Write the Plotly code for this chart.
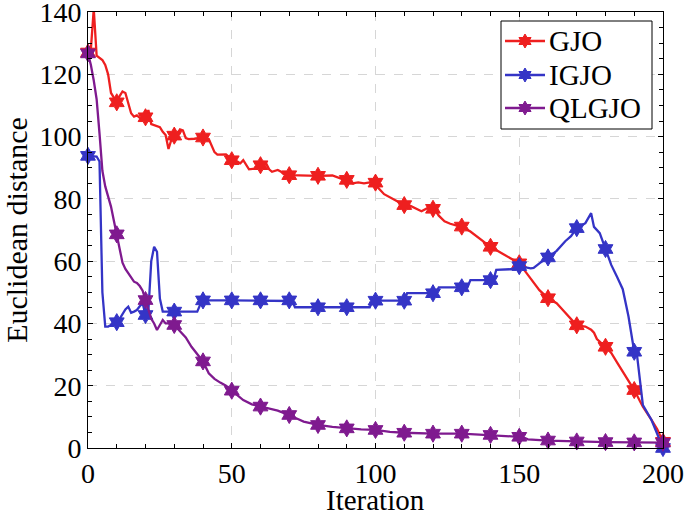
import math
import plotly.graph_objects as go

# ---------------- data ----------------
gjo_x = [0, 1, 2, 3, 5, 6, 7, 8, 9, 10, 11, 12, 13, 14, 15, 16, 17, 18, 19, 20,
         21, 22, 24, 25, 26, 27, 28, 29, 30, 31, 32, 33, 34, 35, 37, 40, 42, 43, 44, 45,
         48, 49, 50, 52, 53, 54, 55, 56, 58, 59, 60, 62, 63, 64, 66, 67, 68, 70, 80, 85,
         88, 90, 92, 94, 96, 98, 100, 101, 103, 105, 107, 110, 112, 114, 116, 118, 120, 121, 122, 124,
         126, 128, 130, 133, 136, 140, 143, 146, 150, 153, 157, 160, 163, 165, 167, 170, 173, 175, 176, 177,
         180, 182, 184, 186, 188, 190, 192, 193, 196, 198, 200]
gjo_y = [127, 128, 141, 126, 124.6, 123, 120, 114, 112.5, 111, 113, 114.5, 114, 111, 107.5, 106.4, 106.8, 106, 105.5, 106.2,
         108.5, 104, 103.2, 103, 101.5, 100.5, 96, 99, 100.3, 100.8, 102.3, 102, 99.5, 99.2, 99.3, 99.7, 99.2, 97, 95, 94.2,
         94.3, 93.5, 92.4, 92, 91.4, 92.4, 91, 89.5, 89.7, 90, 90.8, 91.3, 89.5, 88.7, 89.3, 88.8, 88, 87.6, 87.4, 87.5,
         86.5, 86.1, 85, 85.3, 85, 85.3, 85.2, 83.5, 81.5, 80.5, 79.5, 78, 77.8, 76.8, 76, 77, 76.8, 76, 74.6, 72.8,
         72, 71.5, 71.1, 69.5, 67.3, 64.6, 63, 61.4, 59.3, 55.6, 50.7, 48.1, 46.5, 44.5, 42.5, 39.4, 39, 38, 37, 35,
         32.5, 30.5, 27.5, 24.5, 21.5, 18.6, 15, 13.3, 9, 6, 2]

igjo_x = [0, 1, 2, 3, 4, 5, 6, 7, 8, 9, 10, 11, 12, 13, 14, 15, 16, 17, 18, 19,
          20, 21, 22, 23, 24, 25, 26, 30, 38, 39, 40, 50, 60, 70, 71, 72, 80, 90, 98, 99,
          100, 110, 111, 120, 121, 122, 130, 132, 133, 140, 141, 142, 147, 150, 154, 155, 157, 160, 163, 166,
          168, 170, 173, 175, 176, 178, 180, 182, 184, 186, 188, 190, 191, 193, 196, 200]
igjo_y = [93.8, 93.8, 93.8, 93.6, 92, 50, 39, 39, 39.5, 40, 40.4, 41.5, 43, 44.5, 45.4, 43.4, 43.8, 44.3, 45.5, 46.5,
          42.7, 44, 60, 64.6, 63, 48, 43.8, 43.8, 43.8, 46, 47.4, 47.4, 47.4, 47.4, 47.2, 45.2, 45.2, 45.2, 45.2, 47.3,
          47.3, 47.3, 49.7, 49.7, 49.7, 51.6, 51.6, 51.6, 53.9, 53.9, 53.9, 57.2, 57.4, 58.4, 57.7, 57.8, 59.3, 61.2, 63.3, 66.4,
          68, 70.6, 72.2, 75.4, 71, 69, 63.9, 58.8, 55, 51, 42.2, 30.9, 29.5, 13.8, 9, 0]

qlgjo_x = [0, 1, 2, 3, 4, 5, 6, 7, 8, 9, 10, 11, 12, 13, 14, 15, 16, 17, 18, 19,
           20, 21, 22, 23, 24, 25, 26, 27, 28, 30, 32, 34, 36, 38, 40, 42, 44, 46, 48, 50,
           52, 54, 57, 60, 63, 66, 68, 70, 73, 75, 78, 80, 85, 90, 95, 100, 105, 110, 120, 130,
           140, 150, 152, 153, 160, 170, 180, 190, 200]
qlgjo_y = [126.7, 123, 118, 112, 101, 89, 84, 80.5, 77.5, 73, 68.6, 63.6, 59.5, 57.5, 56, 54.5, 53.4, 53, 52, 50.5,
           47.5, 44, 41.5, 40, 37.9, 39.5, 41.1, 40, 40, 39.5, 37.5, 35.5, 32.5, 30, 27.8, 24, 22.2, 21, 20, 18.4,
           16.8, 15.4, 14, 13.3, 12.8, 12, 11.3, 10.6, 9.3, 8.5, 7.8, 7.4, 6.8, 6.3, 6, 5.8, 5.2, 4.9, 4.6, 4.6,
           4.2, 3.6, 3.2, 2.8, 2.4, 2.1, 1.9, 1.8, 1.7]

names = ["GJO", "IGJO", "QLGJO"]
colors = ["#ee1f1f", "#3434c6", "#7f1a8f"]
x_title = "Iteration"
y_title = "Euclidean distance"

FONT = "Liberation Serif"
LW = 2.3
MS = 13

fig = go.Figure()
for name, xs, ys, col in zip(names, [gjo_x, igjo_x, qlgjo_x], [gjo_y, igjo_y, qlgjo_y], colors):
    fig.add_trace(go.Scatter(x=xs, y=ys, mode="lines", line=dict(color=col, width=LW),
                             showlegend=False, name=name, hoverinfo="skip"))
    mx = [x for x in xs if x % 10 == 0]
    my = [y for x, y in zip(xs, ys) if x % 10 == 0]
    fig.add_trace(go.Scatter(x=mx, y=my, mode="markers", name=name,
                             marker=dict(symbol="hexagram", size=MS, color=col,
                                         line=dict(color=col, width=1)),
                             showlegend=False, cliponaxis=False))

# ---------------- legend drawn as layout shapes / annotations ----------------
L, R, T, B = 88, 22, 12, 69
W, H = 685, 517
PW, PH = W - L - R, H - T - B


def px2paper(px, py):
    return (px - L) / PW, (H - B - py) / PH


def hexagram_path(r):
    pts = []
    for k in range(12):
        ang = math.radians(90 + 30 * k)
        rad = r if k % 2 == 0 else r / math.sqrt(3)
        pts.append((rad * math.cos(ang), rad * math.sin(ang)))
    return "M " + " L ".join(f"{x:.2f},{y:.2f}" for x, y in pts) + " Z"


shapes = []
annotations = []
bx0, by1 = px2paper(501, 21)
bx1, by0 = px2paper(652, 129)
shapes.append(dict(type="rect", xref="paper", yref="paper", x0=bx0, x1=bx1, y0=by0, y1=by1,
                   line=dict(color="black", width=1), fillcolor="white", layer="above"))
row_y = [41, 75, 108]
for name, col, ry in zip(names, colors, row_y):
    lx0, yy = px2paper(505, ry)
    lx1, _ = px2paper(545, ry)
    mxp, _ = px2paper(525, ry)
    tx, _ = px2paper(547, ry)
    shapes.append(dict(type="line", xref="paper", yref="paper", x0=lx0, x1=lx1, y0=yy, y1=yy,
                       line=dict(color=col, width=LW), layer="above"))
    shapes.append(dict(type="path", xref="paper", yref="paper", xsizemode="pixel", ysizemode="pixel",
                       xanchor=mxp, yanchor=yy, path=hexagram_path(MS / 2 + 0.5),
                       fillcolor=col, line=dict(color=col, width=1), layer="above"))
    annotations.append(dict(text=name, xref="paper", yref="paper", x=tx, y=yy,
                            xanchor="left", yanchor="middle", showarrow=False,
                            font=dict(family=FONT, size=29, color="black")))

# x-axis title placed as an annotation below the tick labels
_, ty = px2paper(0, 500)
annotations.append(dict(text=x_title, xref="paper", yref="paper", x=0.5, y=ty,
                        xanchor="center", yanchor="middle", showarrow=False,
                        font=dict(family=FONT, size=29, color="black")))

axis_common = dict(
    showline=True, linecolor="black", linewidth=1, mirror="allticks",
    ticks="inside", ticklen=5, tickcolor="black", tickwidth=1,
    showgrid=True, gridcolor="#d6d6d6", griddash="dash", gridwidth=1,
    zeroline=False, automargin=False, ticklabeloverflow="allow",
    tickfont=dict(family=FONT, size=28, color="black"),
)

fig.update_xaxes(range=[0, 200], tickvals=[0, 50, 100, 150, 200],
                 minor=dict(dtick=10, tick0=0, ticks="inside", ticklen=4, tickcolor="black", showgrid=False),
                 **axis_common)
fig.update_yaxes(range=[0, 140], tickvals=[0, 20, 40, 60, 80, 100, 120, 140],
                 minor=dict(dtick=5, tick0=0, ticks="inside", ticklen=4, tickcolor="black", showgrid=False),
                 title=dict(text=y_title, font=dict(family=FONT, size=30, color="black"), standoff=6),
                 **axis_common)

fig.update_layout(
    width=W, height=H,
    margin=dict(l=L, r=R, t=T, b=B),
    paper_bgcolor="white", plot_bgcolor="white",
    font=dict(family=FONT, size=28, color="black"),
    showlegend=False,
    shapes=shapes,
    annotations=annotations,
)

fig.write_html("out.html", config={"displayModeBar": False},
               post_script="document.body.style.margin='0';document.body.style.overflow='hidden';")
